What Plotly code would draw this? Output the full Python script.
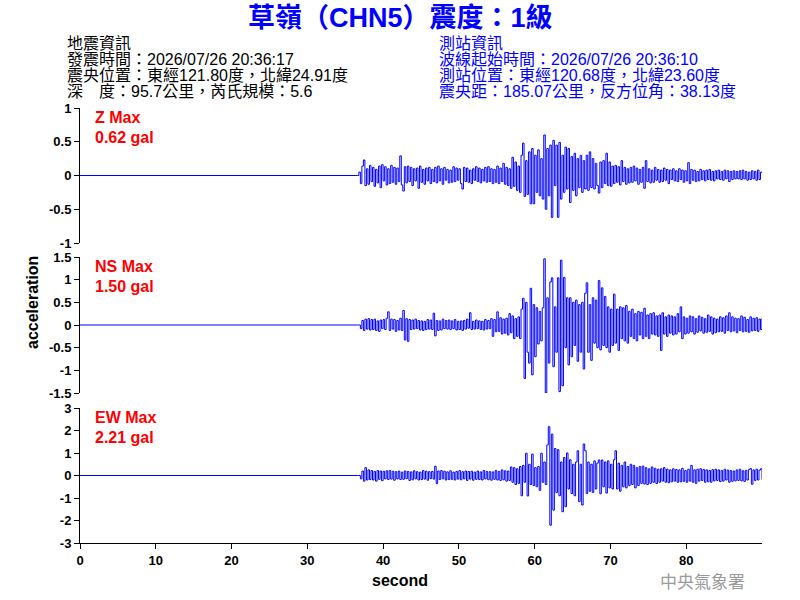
import numpy as np
import plotly.graph_objects as go

# ---- data (accelerations, in 0.01 gal) ----
start_t = 36.6
step_t = 0.2

z_cgal = [
    0, 5, -12, 14, 23, -15, 10, -13, 15, -9,
    12, -16, 9, -11, 14, -18, 16, -8, 13, -14,
    10, -12, 15, -10, 12, -13, 11, -9, 29, -14,
    -23, 13, -11, 14, -9, 12, -15, 10, -8, 11,
    -19, 14, -10, 9, -13, 11, -8, 12, -12, 9,
    -9, 12, -11, 14, -8, 10, -13, 12, -7, 9,
    -11, 8, -10, 13, -9, 11, -7, 10, -12, -20,
    12, -9, 11, -10, 8, -12, 10, -7, 13, -9,
    11, -11, 9, -8, 12, -10, 13, -9, 10, -12,
    9, -10, 14, -12, 11, -9, 18, -13, 12, -15,
    10, -19, 27, -16, 20, -22, 14, -25, 30, 48,
    -31, 22, -28, 35, -42, 40, -42, 30, -25, 38,
    -30, 25, -35, 60, -50, 40, -30, 45, -62, 52,
    -15, 45, -62, 49, -35, 30, -25, 42, -20, 40,
    -40, 28, -22, 33, -30, 25, -18, 30, -25, 22,
    -20, 30, -22, 35, -18, 25, -20, 18, -15, -26,
    20, -18, 22, -12, 33, -15, 20, -16, 14, -12,
    15, -10, 13, -14, 22, -9, 12, -13, 10, -11,
    12, -10, 14, -8, 11, -13, 9, -10, 12, -19,
    22, -9, 10, -11, 8, -10, 12, -7, 9, -10,
    8, -9, 11, -7, 9, -12, 8, -6, 10, -8,
    7, -9, 10, -6, 8, -10, 7, -8, 19, -12,
    9, -7, 8, -9, 6, -8, 9, -6, 7, -8,
    8, -6, 9, -7, 6, -8, 7, -5, 8, -6,
    6, -7, 8, -5, 7, -9, 6, -6, 7, -5,
    6, -5, 7, -6, 8, -5, 6, -7, 5, -6,
    7, -5, 6, -7, 8, -6, 5, 4, -5, 6,
]

ns_cgal = [
    0, 0, -8, 10, -12, 13, -9, 14, -11, 12,
    -10, 13, -12, 9, -14, 11, -8, 12, -10, 15,
    29, -12, 13, -9, 12, -14, 10, -11, 15, -12,
    32, -33, 14, -36, 12, -10, 11, -9, 13, -8,
    10, -11, 9, -12, 8, -10, 12, -9, 11, -10,
    26, -24, 10, -12, 9, -11, 13, -8, 10, -9,
    11, -10, 9, -8, 12, -11, 8, -10, 9, -12,
    10, -9, 13, -7, 27, -10, 8, -9, 11, -8,
    9, -10, 8, -11, 12, -9, 10, -8, 14, -25,
    12, -15, 29, -14, 16, -20, 13, -18, 15, -22,
    25, -17, 20, -30, 14, -25, 18, -30, 35, 59,
    -118, 50, -60, -84, 81, -110, 45, -70, 38, -42,
    30, -35, 38, 146, -150, 60, -84, 95, 104, -92,
    40, -60, 104, -147, 143, -134, 105, -50, 60, -88,
    60, -70, 50, -45, 55, -80, 45, -60, 50, -97,
    70, 93, -60, 45, -78, 60, -40, 55, -50, 98,
    -55, 82, -45, 63, -50, 40, -60, 35, -45, 68,
    -40, 35, -56, 40, -30, 38, -35, 43, -40, 30,
    -25, 35, -30, 25, -35, 30, -22, 28, -30, 37,
    -25, 22, -30, 25, -20, 27, -22, 20, -25, 22,
    -56, 27, -20, 18, -25, 22, -18, 20, -22, 18,
    -20, 25, -15, 40, -30, 18, -20, 15, -18, 20,
    -15, 18, -20, 14, -16, 20, -13, 17, -18, 14,
    -16, 22, -14, 18, -20, 15, -17, 13, -15, 18,
    -14, 16, -18, 20, -12, 27, -15, 18, -13, 15,
    -17, 14, -12, 20, -15, 17, -14, 12, -16, 18,
    -13, 15, -12, 16, -14, 13, -10, 15, -12, 14,
]

ew_cgal = [
    0, 0, -15, 20, -25, 35, -20, 25, -18, 22,
    -20, 18, -25, 22, -17, 20, -23, 19, -15, 21,
    -18, 22, -16, 19, -21, 17, -15, 20, -18, 15,
    -17, 20, -14, 18, -22, 16, -19, 21, -15, 17,
    -20, 15, -18, 22, -16, 19, -21, 17, -14, 18,
    -16, 41, -36, 20, -18, 22, -15, 19, -20, 16,
    -18, 21, -17, 15, -20, 18, -16, 22, -19, 17,
    -15, 20, -22, 18, -16, 19, -21, 15, -17, 20,
    -18, 16, -20, 22, -15, 18, -19, 17, -21, 16,
    -17, 23, -20, 18, -22, 25, -19, 21, -25, 20,
    -22, 38, -30, 35, -40, 30, -35, 40, -90, 45,
    -30, 99, -91, 50, -40, 95, -45, 35, -50, 40,
    -66, 99, -30, 60, -40, 136, 217, -221, 184, -154,
    120, -76, 115, -90, 60, -161, 80, -139, 100, -60,
    70, -80, 50, -90, 60, 110, -116, 50, -131, 140,
    110, -80, 60, -70, 50, -75, 65, -60, 55, 69,
    -81, 69, -50, 60, -78, 65, -55, 50, -60, 70,
    110, -60, 55, -70, 45, -50, 60, -55, 40, -45,
    50, -40, 45, -55, 35, -45, 40, -35, 42, -38,
    35, -40, 30, -35, 38, -30, 32, -36, 28, -30,
    30, -25, 35, -30, 28, -32, 25, -28, 30, -25,
    27, -30, 25, -28, 32, -26, 22, -30, 28, -25,
    45, -30, 25, -35, 28, -25, 30, -22, 27, -30,
    25, -28, 22, -30, 26, -24, 28, -22, 25, -27,
    22, -25, 28, -20, 24, -30, 22, -26, 20, -24,
    25, -22, 28, -24, 21, -26, 23, -20, 26, 31,
    -39, 25, -22, 28, -20, 24, 30, -18, 22, -20,
]

channels = ["Z", "NS", "EW"]
max_labels = ["0.62 gal", "1.50 gal", "2.21 gal"]
y_ranges = [[-1, 1], [-1.5, 1.5], [-3, 3]]
y_ticks = [[-1, -0.5, 0, 0.5, 1], [-1.5, -1, -0.5, 0, 0.5, 1, 1.5], [-3, -2, -1, 0, 1, 2, 3]]
x_ticks = [0, 10, 20, 30, 40, 50, 60, 70, 80]

title_text = "草嶺（CHN5）震度：1級"
quake_info = ["地震資訊", "發震時間：2026/07/26 20:36:17",
              "震央位置：東經121.80度，北緯24.91度",
              "深　度：95.7公里，芮氏規模：5.6"]
station_info = ["測站資訊", "波線起始時間：2026/07/26 20:36:10",
                "測站位置：東經120.68度，北緯23.60度",
                "震央距：185.07公里，反方位角：38.13度"]

# ---- figure ----
W, H = 800, 600
L, R, T, B = 80, 762, 108, 543
panel_px = [(108, 243), (257, 393), (408, 543)]

def px(x):
    return (x - L) / (R - L)

def py(y):
    return (B - y) / (B - T)

FONT = "Liberation Sans, Arial, Noto Sans CJK TC"

n = len(z_cgal)
t = np.concatenate([[0.0], start_t + step_t * np.arange(n)])
series = [z_cgal, ns_cgal, ew_cgal]

fig = go.Figure()
for k, vals in enumerate(series):
    yv = np.concatenate([[0.0], np.array(vals, dtype=float) / 100.0])
    fig.add_trace(go.Scatter(
        x=t, y=yv, mode="lines",
        line=dict(color="#0000ff", width=1, shape="hv"),
        xaxis="x", yaxis="y" if k == 0 else f"y{k+1}",
        showlegend=False, hoverinfo="skip"))

layout = dict(
    width=W, height=H,
    margin=dict(l=L, r=W - R, t=T, b=H - B, pad=0),
    paper_bgcolor="white", plot_bgcolor="white",
    showlegend=False,
    font=dict(family=FONT, size=13, color="black"),
    xaxis=dict(range=[0, 90], domain=[0, 1], anchor="y3",
               tickvals=x_ticks, ticks="outside", ticklen=5, tickcolor="black",
               showline=True, linecolor="black", linewidth=1,
               showgrid=False, zeroline=False,
               tickfont=dict(family=FONT, size=13, color="black", weight="bold")),
)
for k in range(3):
    top, bot = panel_px[k]
    key = "yaxis" if k == 0 else f"yaxis{k+1}"
    layout[key] = dict(
        range=y_ranges[k], domain=[py(bot), py(top)], anchor="x",
        tickvals=y_ticks[k], ticktext=[f"{v:g}" for v in y_ticks[k]],
        ticks="outside", ticklen=5, tickcolor="black",
        showline=True, linecolor="black", linewidth=1,
        showgrid=False, zeroline=False,
        tickfont=dict(family=FONT, size=13, color="black", weight="bold"))
fig.update_layout(**layout)

ann = []
ann.append(dict(text="<b>" + title_text + "</b>", x=px(400), y=py(18), xref="paper", yref="paper",
                xanchor="center", yanchor="middle", showarrow=False,
                font=dict(family=FONT, size=27, color="#0000ff")))
for i, line in enumerate(quake_info):
    ann.append(dict(text=line, x=px(65), y=py(43 + 16 * i), xref="paper", yref="paper",
                    xanchor="left", yanchor="middle", showarrow=False,
                    font=dict(family=FONT, size=16, color="black")))
for i, line in enumerate(station_info):
    ann.append(dict(text=line, x=px(437), y=py(43 + 16 * i), xref="paper", yref="paper",
                    xanchor="left", yanchor="middle", showarrow=False,
                    font=dict(family=FONT, size=16, color="#0000ff")))
for k in range(3):
    top, _ = panel_px[k]
    ann.append(dict(text="<b>" + channels[k] + " Max</b>", x=px(93), y=py(top + 9),
                    xref="paper", yref="paper", xanchor="left", yanchor="middle",
                    showarrow=False, font=dict(family=FONT, size=16, color="#ff0000")))
    ann.append(dict(text="<b>" + max_labels[k] + "</b>", x=px(93), y=py(top + 29),
                    xref="paper", yref="paper", xanchor="left", yanchor="middle",
                    showarrow=False, font=dict(family=FONT, size=16, color="#ff0000")))
ann.append(dict(text="<b>acceleration</b>", x=px(32), y=py(302), xref="paper", yref="paper",
                xanchor="center", yanchor="middle", textangle=-90, showarrow=False,
                font=dict(family=FONT, size=16, color="black")))
ann.append(dict(text="<b>second</b>", x=px(400), y=py(580), xref="paper", yref="paper",
                xanchor="center", yanchor="middle", showarrow=False,
                font=dict(family=FONT, size=16, color="black")))
ann.append(dict(text="中央氣象署", x=px(702), y=py(580), xref="paper", yref="paper",
                xanchor="center", yanchor="middle", showarrow=False,
                font=dict(family="Noto Sans CJK TC", size=17, color="#9a9a9a")))
fig.update_layout(annotations=ann)

fig.write_html("out.html")
